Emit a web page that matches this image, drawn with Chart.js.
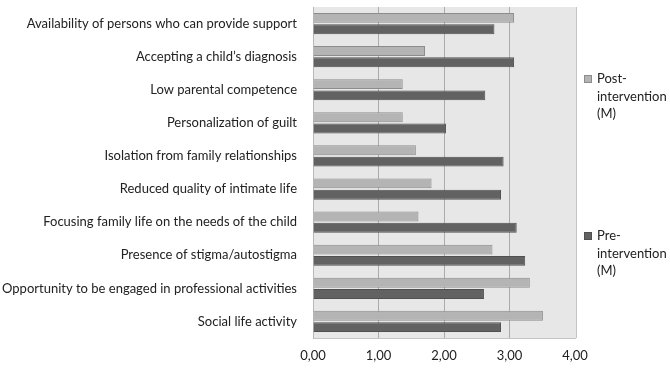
<!DOCTYPE html>
<html>
<head>
<meta charset="utf-8">
<script src="https://cdn.jsdelivr.net/npm/chart.js@4/dist/chart.umd.min.js"></script>
<style>
  html, body { margin: 0; padding: 0; background: #fff; }
  #wrap { position: relative; width: 670px; height: 369px; }
  #legend { position: absolute; left: 583px; top: 0; font-family: Lato, "Open Sans", sans-serif; font-size: 13px; color: #222; }
  .item { position: absolute; left: 0; width: 90px; line-height: 17.5px; padding-left: 14px; }
  .box { position: absolute; left: 1px; top: 5px; width: 6px; height: 6px; border: 1px solid #777; }
</style>
</head>
<body>
<div id="wrap">
  <canvas id="chart" width="670" height="369"></canvas>
  <div id="legend"></div>
</div>
<script>
const categories = [
    'Availability of persons who can provide support',
    'Accepting a child\u2019s diagnosis',
    'Low parental competence',
    'Personalization of guilt',
    'Isolation from family relationships',
    'Reduced quality of intimate life',
    'Focusing family life on the needs of the child',
    'Presence of stigma/autostigma',
    'Opportunity to be engaged in professional activities',
    'Social life activity'
];
const postValues = [3.07, 1.71, 1.37, 1.37, 1.57, 1.81, 1.61, 2.74, 3.31, 3.51];
const preValues  = [2.77, 3.07, 2.63, 2.03, 2.91, 2.87, 3.11, 3.24, 2.61, 2.87];
const seriesNames = [['Post-', 'intervention', '(M)'], ['Pre-', 'intervention', '(M)']];
const xTicks = [0, 1, 2, 3, 4];

const FONT = 'Lato, "Open Sans", sans-serif';
const POST_FILL = '#b4b4b4', POST_LINE = '#8c8c8c';
const PRE_FILL = '#626262', PRE_LINE = '#505050';

// grey plot area plus its right edge line
const plotBg = {
    id: 'plotBg',
    beforeDraw(c) {
        const a = c.chartArea, ctx = c.ctx;
        ctx.save();
        ctx.fillStyle = '#e7e7e7';
        ctx.fillRect(a.left, a.top, a.right - a.left + 2, a.bottom - a.top);
        ctx.strokeStyle = '#c4c4c4';
        ctx.lineWidth = 1;
        ctx.beginPath();
        ctx.moveTo(a.right + 1.5, a.top);
        ctx.lineTo(a.right + 1.5, a.bottom);
        ctx.stroke();
        ctx.restore();
    }
};

new Chart(document.getElementById('chart'), {
    type: 'bar',
    data: {
        labels: categories,
        datasets: [
            { label: 'Post-intervention (M)', data: postValues, backgroundColor: POST_FILL, borderColor: POST_LINE, borderWidth: 1 },
            { label: 'Pre-intervention (M)', data: preValues, backgroundColor: PRE_FILL, borderColor: PRE_LINE, borderWidth: 1 }
        ]
    },
    options: {
        indexAxis: 'y',
        responsive: false,
        animation: false,
        datasets: { bar: { categoryPercentage: 0.68, barPercentage: 0.88 } },
        layout: { padding: { top: 7, right: 95, left: 0, bottom: 0 } },
        plugins: { legend: { display: false }, tooltip: { enabled: false } },
        scales: {
            x: {
                min: 0, max: 4,
                afterBuildTicks: s => { s.ticks = xTicks.map(v => ({ value: v })); },
                afterFit: s => { s.height = 31; },
                grid: {
                    drawTicks: false,
                    color: ctx => (ctx.tick && ctx.tick.value > 0 && ctx.tick.value < 4) ? '#ababab' : 'rgba(0,0,0,0)'
                },
                border: { display: true, color: '#c4c4c4' },
                ticks: {
                    padding: 10,
                    color: '#222',
                    font: { family: FONT, size: 13 },
                    callback: v => v.toFixed(2).replace('.', ',')
                }
            },
            y: {
                afterFit: s => { s.width = 313; s.paddingTop = 0; s.paddingBottom = 0; },
                grid: { display: false, drawTicks: false },
                border: { display: true, color: '#b8b8b8' },
                ticks: {
                    padding: 16,
                    color: '#222',
                    font: { family: FONT, size: 13 }
                }
            }
        }
    },
    plugins: [plotBg]
});

const legendTops = [70, 227];
const legendFills = [[POST_FILL, POST_LINE], [PRE_FILL, PRE_LINE]];
document.getElementById('legend').innerHTML = seriesNames.map((lines, i) => `
    <div class="item" style="top:${legendTops[i]}px">
        <div class="box" style="background:${legendFills[i][0]};border-color:${legendFills[i][1]}"></div>
        ${lines.join('<br>')}
    </div>
`).join('');
</script>
</body>
</html>
